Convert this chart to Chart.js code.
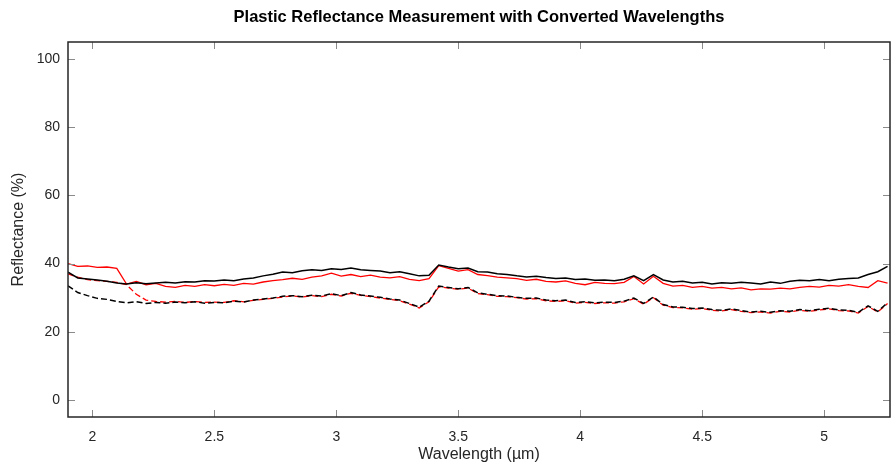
<!DOCTYPE html>
<html>
<head>
<meta charset="utf-8">
<script src="https://cdn.jsdelivr.net/npm/chart.js@4/dist/chart.umd.min.js"></script>
<style>
  html, body { margin: 0; padding: 0; background: #fff; }
  #wrap { width: 891px; height: 467px; }
</style>
</head>
<body>
<div id="wrap"><canvas id="myChart"></canvas></div>
<script>
// wavelengths (µm)
var wavelengths = [
  1.90, 1.94, 1.98, 2.02, 2.06, 2.10, 2.14, 2.18, 2.22, 2.26,
  2.30, 2.34, 2.38, 2.42, 2.46, 2.50, 2.54, 2.58, 2.62, 2.66,
  2.70, 2.74, 2.78, 2.82, 2.86, 2.90, 2.94, 2.98, 3.02, 3.06,
  3.10, 3.14, 3.18, 3.22, 3.26, 3.30, 3.34, 3.38, 3.42, 3.46,
  3.50, 3.54, 3.58, 3.62, 3.66, 3.70, 3.74, 3.78, 3.82, 3.86,
  3.90, 3.94, 3.98, 4.02, 4.06, 4.10, 4.14, 4.18, 4.22, 4.26,
  4.30, 4.34, 4.38, 4.42, 4.46, 4.50, 4.54, 4.58, 4.62, 4.66,
  4.70, 4.74, 4.78, 4.82, 4.86, 4.90, 4.94, 4.98, 5.02, 5.06,
  5.10, 5.14, 5.18, 5.22, 5.26
];

var blackSolid = [
  37.5, 35.8, 35.5, 35.2, 34.8, 34.3, 34.0, 34.4, 34.1, 34.3,
  34.5, 34.3, 34.7, 34.6, 35.0, 34.9, 35.2, 35.0, 35.5, 35.8,
  36.4, 36.9, 37.5, 37.3, 37.9, 38.2, 38.0, 38.5, 38.3, 38.7,
  38.2, 38.0, 37.8, 37.3, 37.6, 37.0, 36.4, 36.6, 39.6, 39.0,
  38.5, 38.7, 37.6, 37.5, 37.0, 36.8, 36.4, 36.1, 36.3, 35.9,
  35.6, 35.8, 35.3, 35.5, 35.1, 35.2, 35.0, 35.4, 36.4, 35.0,
  36.8, 35.2, 34.6, 34.8, 34.3, 34.5, 34.0, 34.4, 34.2, 34.5,
  34.3, 34.0, 34.6, 34.2, 34.8, 35.1, 35.0, 35.3, 35.0, 35.4,
  35.6, 35.8, 36.8, 37.6, 39.2
];

var redSolid = [
  40.0, 39.2, 39.3, 38.9, 39.0, 38.6, 34.0, 34.8, 33.8, 34.2,
  33.3, 33.0, 33.6, 33.3, 33.8, 33.5, 33.9, 33.6, 34.2, 34.0,
  34.6, 35.0, 35.3, 35.7, 35.4, 36.0, 36.4, 37.2, 36.3, 36.8,
  36.2, 36.6, 36.0, 35.8, 36.2, 35.4, 35.0, 35.6, 39.4, 38.6,
  37.8, 38.2, 36.8, 36.5, 36.0, 35.8, 35.6, 35.1, 35.4, 34.8,
  34.6, 34.9, 34.2, 33.8, 34.5, 34.2, 34.1, 34.5, 36.2, 34.0,
  36.3, 34.2, 33.4, 33.6, 33.0, 33.3, 32.8, 33.0, 32.6, 32.9,
  32.3, 32.6, 32.5, 32.8, 32.6, 33.0, 33.3, 33.1, 33.6, 33.4,
  33.8, 33.3, 33.0, 35.0, 34.3
];

var blackDashed = [
  33.5, 31.5, 30.6, 29.8, 29.5, 28.9, 28.5, 28.8, 28.3, 28.6,
  28.4, 28.7, 28.5, 28.8, 28.4, 28.6, 28.5, 29.0, 28.7, 29.3,
  29.6, 29.9, 30.4, 30.6, 30.3, 30.7, 30.5, 31.2, 30.6, 31.5,
  30.8, 30.5, 30.1, 29.6, 29.3, 28.3, 27.2, 29.0, 33.4, 33.0,
  32.6, 33.0, 31.4, 31.0, 30.6, 30.5, 30.1, 29.8, 29.9, 29.3,
  29.1, 29.3, 28.6, 28.8, 28.5, 28.7, 28.6, 29.0, 29.9, 28.3,
  30.2, 28.0, 27.3, 27.2, 26.8, 27.0, 26.5, 26.3, 26.7, 26.2,
  25.8, 26.0, 25.7, 26.2, 26.0, 26.5, 26.2, 26.6, 26.9, 26.4,
  26.3, 25.7, 27.6, 26.0, 28.5
];

var redDashed = [
  37.0, 36.0, 35.3, 35.0, 34.8, 34.5, 33.8, 31.0, 29.3, 28.9,
  28.7, 28.9, 28.6, 28.9, 28.6, 28.7, 28.6, 29.1, 28.8, 29.2,
  29.5, 29.8, 30.2, 30.5, 30.2, 30.6, 30.3, 31.0, 30.5, 31.3,
  30.7, 30.3, 29.9, 29.5, 29.1, 28.1, 27.0, 28.8, 33.2, 32.8,
  32.5, 32.8, 31.2, 30.9, 30.4, 30.3, 30.0, 29.6, 29.7, 29.1,
  28.9, 29.1, 28.4, 28.6, 28.3, 28.5, 28.4, 28.8, 29.7, 28.1,
  30.0, 27.8, 27.1, 27.0, 26.6, 26.8, 26.3, 26.1, 26.5, 26.0,
  25.6, 25.8, 25.5, 26.0, 25.8, 26.3, 26.0, 26.4, 26.7, 26.2,
  26.1, 25.5, 27.4, 25.8, 28.3
];

var xTicks = [2, 2.5, 3, 3.5, 4, 4.5, 5];
var yTicks = [0, 20, 40, 60, 80, 100];

function points(values) {
  return values.map(function(v, i) { return { x: wavelengths[i], y: v }; });
}

// box round the plot with inward tick marks
var boxPlugin = {
  id: "box",
  afterDatasetsDraw: function(chart) {
    var c = chart.ctx, a = chart.chartArea;
    var xs = chart.scales.x, ys = chart.scales.y;
    c.save();
    c.strokeStyle = "#8a8a8a";
    c.lineWidth = 1;
    c.beginPath();
    xTicks.forEach(function(v) {
      var px = Math.round(xs.getPixelForValue(v)) + 0.5;
      c.moveTo(px, a.bottom); c.lineTo(px, a.bottom - 7);
      c.moveTo(px, a.top); c.lineTo(px, a.top + 7);
    });
    yTicks.forEach(function(v) {
      var py = Math.round(ys.getPixelForValue(v)) + 0.5;
      c.moveTo(a.left, py); c.lineTo(a.left + 7, py);
      c.moveTo(a.right, py); c.lineTo(a.right - 7, py);
    });
    c.stroke();
    c.strokeStyle = "#262626";
    c.lineWidth = 1.5;
    c.strokeRect(a.left, a.top, a.right - a.left, a.bottom - a.top);
    c.restore();
  }
};

Chart.defaults.font.family = "'Liberation Sans', Arial, sans-serif";
Chart.defaults.color = "#262626";

var ctx = document.getElementById("myChart");
new Chart(ctx, {
  type: "line",
  data: {
    datasets: [{
      label: "black solid",
      data: points(blackSolid),
      borderColor: "#000000",
      borderWidth: 1.5
    }, {
      label: "black dashed",
      data: points(blackDashed),
      borderColor: "#000000",
      borderWidth: 1.5,
      borderDash: [6, 3]
    }, {
      label: "red solid",
      data: points(redSolid),
      borderColor: "#ff0000",
      borderWidth: 1.3
    }, {
      label: "red dashed",
      data: points(redDashed),
      borderColor: "#ff0000",
      borderWidth: 1.3,
      borderDash: [6, 3]
    }]
  },
  options: {
    responsive: true,
    maintainAspectRatio: false,
    animation: false,
    layout: { padding: { left: 0, right: 1, top: 0, bottom: 0 } },
    elements: {
      point: { radius: 0 },
      line: { tension: 0, fill: false }
    },
    plugins: {
      legend: { display: false },
      tooltip: { enabled: false },
      title: {
        display: true,
        fullSize: false,
        text: "Plastic Reflectance Measurement with Converted Wavelengths",
        color: "#000000",
        font: { size: 16.5, weight: "bold" },
        padding: { top: 8, bottom: 14.2 }
      }
    },
    scales: {
      x: {
        type: "linear",
        min: 1.9,
        max: 5.27,
        afterFit: function(s) { s.height = 50; },
        afterBuildTicks: function(s) { s.ticks = xTicks.map(function(v) { return { value: v }; }); },
        grid: { display: false, drawTicks: false },
        border: { display: false },
        ticks: { font: { size: 14 }, padding: 12, maxRotation: 0, callback: function(v) { return String(v); } },
        title: { display: true, text: "Wavelength (µm)", font: { size: 16 }, padding: { top: 0, bottom: 2.4 } }
      },
      y: {
        min: -5,
        max: 105,
        afterFit: function(s) { s.width = 68; },
        afterBuildTicks: function(s) { s.ticks = yTicks.map(function(v) { return { value: v }; }); },
        grid: { display: false, drawTicks: false },
        border: { display: false },
        ticks: { font: { size: 14 }, padding: 8, callback: function(v) { return String(v); } },
        title: { display: true, text: "Reflectance (%)", font: { size: 16 }, padding: { top: 9, bottom: 0 } }
      }
    }
  },
  plugins: [boxPlugin]
});
</script>
</body>
</html>
